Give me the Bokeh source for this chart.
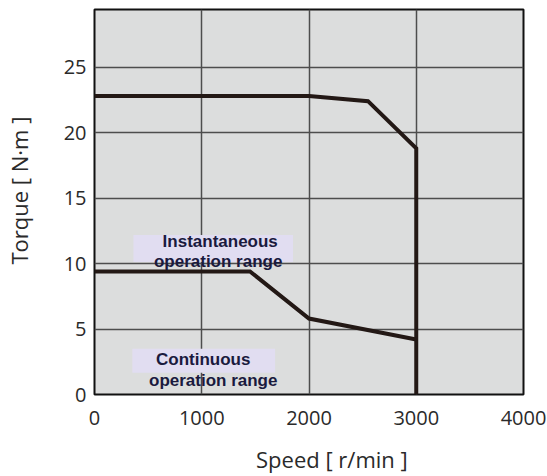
from bokeh.plotting import figure
from bokeh.models import Label, Range1d, FixedTicker, BoxAnnotation
from bokeh.embed import file_html
from bokeh.resources import INLINE

# Data
speed_inst = [0, 2000, 2550, 3000, 3000]
torque_inst = [22.8, 22.8, 22.4, 18.8, 0]
speed_cont = [0, 1450, 2000, 3000]
torque_cont = [9.4, 9.4, 5.8, 4.2]
x_ticks = [0, 1000, 2000, 3000, 4000]
y_ticks = [0, 5, 10, 15, 20, 25]

NB = "\u00a0"

p = figure(width=547, height=476, output_backend="svg", toolbar_location=None,
           x_range=Range1d(0, 4000), y_range=Range1d(0, 29.4),
           min_border_left=93, min_border_right=24, min_border_top=9, min_border_bottom=81)

p.background_fill_color = "#dcdddd"
p.border_fill_color = "white"
p.outline_line_color = "#111111"
p.outline_line_width = 2

for ax in (p.xaxis, p.yaxis):
    ax.axis_line_color = None
    ax.major_tick_line_color = None
    ax.minor_tick_line_color = None
    ax.major_label_text_font = "Open Sans"
    ax.major_label_text_font_size = "20px"
    ax.major_label_text_color = "#2a2a2a"
    ax.axis_label_text_font = "Open Sans"
    ax.axis_label_text_font_size = "22px"
    ax.axis_label_text_font_style = "normal"
    ax.axis_label_text_color = "#2a2a2a"
p.xaxis.ticker = FixedTicker(ticks=x_ticks)
p.yaxis.ticker = FixedTicker(ticks=y_ticks)
p.xaxis.major_label_standoff = 10
p.yaxis.major_label_standoff = 2

# axis titles (leading no-break spaces nudge them off-centre as in the reference)
p.xaxis.axis_label = NB * 8 + "Speed [ r/min ]"
p.xaxis.axis_label_standoff = 16
p.xaxis.axis_label_text_line_height = 0.75
p.yaxis.axis_label = NB * 4 + "Torque [ N·m ]"
p.yaxis.axis_label_standoff = 27

p.grid.grid_line_color = "#4d4d4d"
p.grid.grid_line_width = 1.5
p.xgrid.ticker = FixedTicker(ticks=x_ticks)
p.ygrid.ticker = FixedTicker(ticks=y_ticks)

p.line(speed_inst, torque_inst, line_color="#231815", line_width=4, line_join="miter")
p.line(speed_cont, torque_cont, line_color="#231815", line_width=4, line_join="miter")

# shaded backgrounds behind the region labels
box_kw = dict(fill_color="#e1ddf1", fill_alpha=1.0, line_color=None)
p.add_layout(BoxAnnotation(left=363, right=1851, bottom=10.12, top=12.18, **box_kw))
p.add_layout(BoxAnnotation(left=353, right=1684, bottom=1.67, top=3.5, **box_kw))

lab_kw = dict(text_font="Liberation Sans", text_font_style="bold", text_font_size="17px",
              text_color="#1a1a3e", text_align="center", text_baseline="alphabetic")
p.add_layout(Label(x=1172, y=11.72, text="Instantaneous", **lab_kw))
p.add_layout(Label(x=1153, y=10.12, text="operation range", **lab_kw))
p.add_layout(Label(x=1014, y=2.66, text="Continuous", **lab_kw))
p.add_layout(Label(x=1107, y=1.07, text="operation range", **lab_kw))

open("out.html", "w").write(file_html(p, INLINE))
